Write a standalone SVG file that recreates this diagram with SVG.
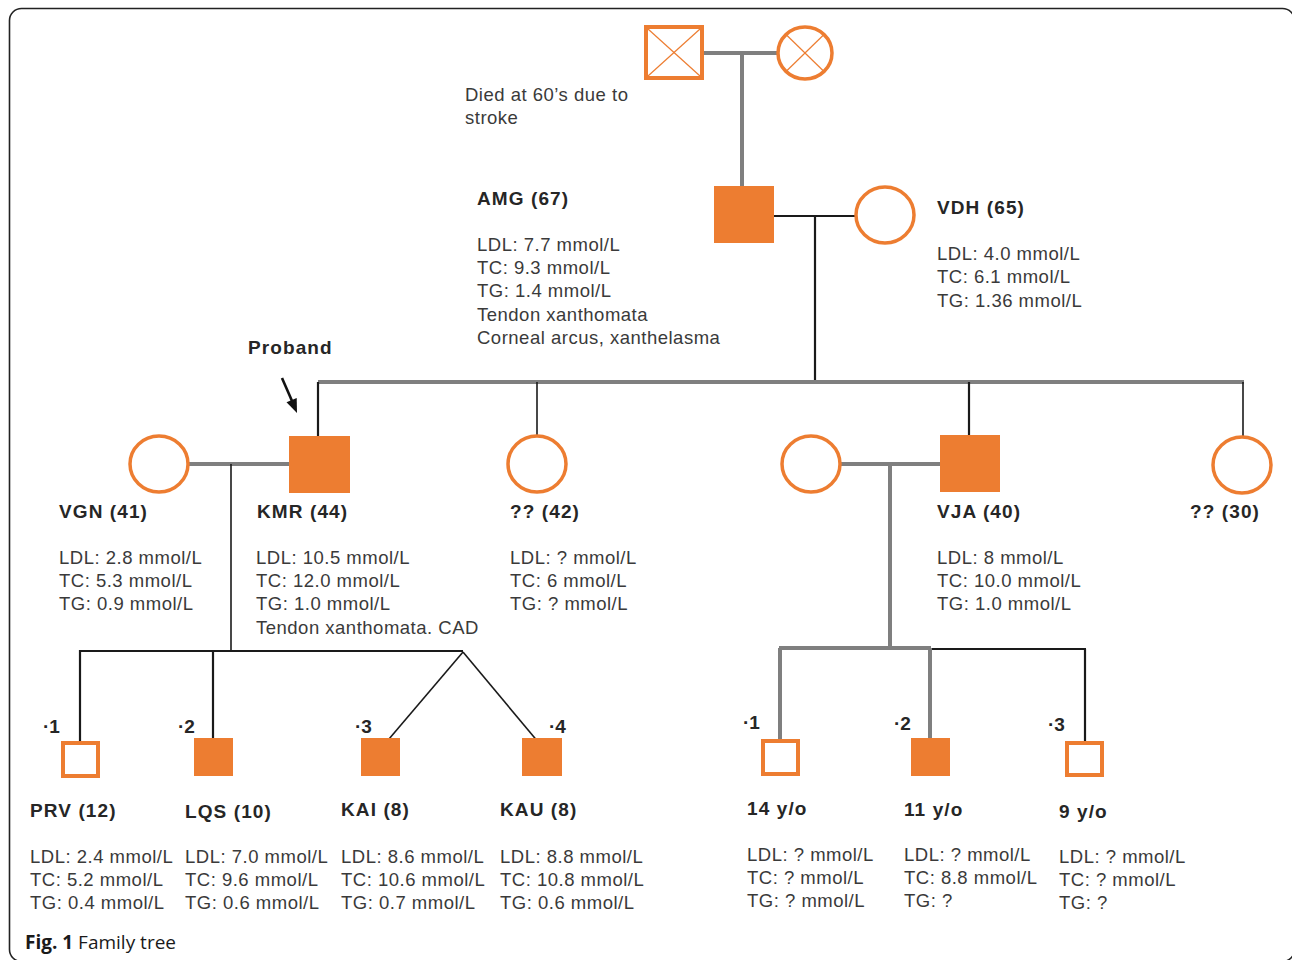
<svg xmlns="http://www.w3.org/2000/svg" width="1292" height="960" viewBox="0 0 1292 960">
<defs>
<style>
.frame{fill:#fff;stroke:#222;stroke-width:1.6}
.aff{fill:#ED7D31}
.una{fill:#fff;stroke:#ED7D31;stroke-width:4}
.cir{fill:#fff;stroke:#ED7D31;stroke-width:3.5}
.xm{stroke:#ED7D31;stroke-width:1.2;fill:none}
.g{stroke:#7F7F7F;stroke-width:4;fill:none}
.k{stroke:#1a1a1a;stroke-width:2.2;fill:none}
.kt{stroke:#1a1a1a;stroke-width:1.6;fill:none}
.nm{font-family:"Liberation Sans",Arial,sans-serif;font-size:19px;font-weight:bold;letter-spacing:1.1px;fill:#262626}
.dt{font-family:"Liberation Sans",Arial,sans-serif;font-size:18.5px;letter-spacing:0.5px;fill:#3a3a3a}
.num{font-family:"Liberation Sans",Arial,sans-serif;font-size:19px;font-weight:bold;fill:#262626}
.cap{font-family:"Open Sans","Liberation Sans",sans-serif;font-size:19px;fill:#1a1a1a}
</style>
</defs>
<rect x="9.5" y="8.5" width="1285" height="953" rx="12" class="frame"/>

<g id="connectors">
<line class="g" x1="702" y1="53" x2="778" y2="53"/>
<line class="g" x1="742" y1="53" x2="742" y2="187"/>
<line class="k" x1="774" y1="216" x2="857" y2="216"/>
<line class="k" x1="815" y1="216" x2="815" y2="383"/>
<line class="g" x1="318" y1="382" x2="1244" y2="382"/>
<line class="k" x1="318" y1="382" x2="318" y2="437"/>
<line class="kt" x1="537" y1="382" x2="537" y2="436"/>
<line class="k" x1="969" y1="382" x2="969" y2="436"/>
<line class="kt" x1="1243" y1="382" x2="1243" y2="437"/>
<line class="g" x1="188" y1="464" x2="290" y2="464"/>
<line class="kt" x1="231" y1="464" x2="231" y2="651"/>
<line class="g" x1="840" y1="464" x2="941" y2="464"/>
<line class="g" x1="890" y1="464" x2="890" y2="648"/>
<line class="k" x1="80" y1="651" x2="463" y2="651"/>
<line class="k" x1="80" y1="650" x2="80" y2="743"/>
<line class="k" x1="213" y1="650" x2="213" y2="739"/>
<line class="kt" x1="463" y1="652" x2="389" y2="739"/>
<line class="kt" x1="463" y1="652" x2="539" y2="743"/>
<line class="g" x1="779" y1="648" x2="931" y2="648"/>
<line class="k" x1="930" y1="649" x2="1086" y2="649"/>
<line class="g" x1="780" y1="648" x2="780" y2="742"/>
<line class="g" x1="930" y1="648" x2="930" y2="739"/>
<line class="k" x1="1085" y1="649" x2="1085" y2="741"/>
<line x1="282" y1="378" x2="292" y2="401" stroke="#111" stroke-width="2.6"/>
<polygon points="297,413 296.7,398 286.5,402.2" fill="#111"/>
</g>

<g id="gf">
<rect class="una" x="646" y="27" width="56" height="51"/>
<line class="xm" x1="648" y1="29" x2="700" y2="76"/>
<line class="xm" x1="700" y1="29" x2="648" y2="76"/>
</g>
<g id="gm">
<ellipse class="cir" cx="805" cy="53" rx="27" ry="26"/>
<line class="xm" x1="786" y1="34.5" x2="824" y2="71.5"/>
<line class="xm" x1="824" y1="34.5" x2="786" y2="71.5"/>
<text class="dt" x="465" y="101">Died at 60’s due to</text>
<text class="dt" x="465" y="124">stroke</text>
</g>

<g id="amg">
<rect class="aff" x="714" y="186" width="60" height="57"/>
<text class="nm" x="477" y="205">AMG (67)</text>
<text class="dt" x="477" y="251">LDL: 7.7 mmol/L</text>
<text class="dt" x="477" y="274">TC: 9.3 mmol/L</text>
<text class="dt" x="477" y="297">TG: 1.4 mmol/L</text>
<text class="dt" x="477" y="321">Tendon xanthomata</text>
<text class="dt" x="477" y="344">Corneal arcus, xanthelasma</text>
</g>

<g id="vdh">
<ellipse class="cir" cx="885" cy="215" rx="29" ry="28"/>
<text class="nm" x="937" y="214">VDH (65)</text>
<text class="dt" x="937" y="260">LDL: 4.0 mmol/L</text>
<text class="dt" x="937" y="283">TC: 6.1 mmol/L</text>
<text class="dt" x="937" y="307">TG: 1.36 mmol/L</text>
</g>

<g id="proband">
<text class="nm" x="248" y="354" letter-spacing="0.6">Proband</text>
</g>

<g id="vgn">
<ellipse class="cir" cx="159" cy="464" rx="29" ry="28"/>
<text class="nm" x="59" y="518">VGN (41)</text>
<text class="dt" x="59" y="564">LDL: 2.8 mmol/L</text>
<text class="dt" x="59" y="587">TC: 5.3 mmol/L</text>
<text class="dt" x="59" y="610">TG: 0.9 mmol/L</text>
</g>

<g id="kmr">
<rect class="aff" x="289" y="436" width="61" height="57"/>
<text class="nm" x="257" y="518">KMR (44)</text>
<text class="dt" x="256" y="564">LDL: 10.5 mmol/L</text>
<text class="dt" x="256" y="587">TC: 12.0 mmol/L</text>
<text class="dt" x="256" y="610">TG: 1.0 mmol/L</text>
<text class="dt" x="256" y="634">Tendon xanthomata. CAD</text>
</g>

<g id="s42">
<ellipse class="cir" cx="537" cy="464" rx="29" ry="28"/>
<text class="nm" x="510" y="518">?? (42)</text>
<text class="dt" x="510" y="564">LDL: ? mmol/L</text>
<text class="dt" x="510" y="587">TC: 6 mmol/L</text>
<text class="dt" x="510" y="610">TG: ? mmol/L</text>
</g>

<g id="vjaw">
<ellipse class="cir" cx="811" cy="464" rx="29" ry="28"/>
</g>

<g id="vja">
<rect class="aff" x="940" y="435" width="60" height="57"/>
<text class="nm" x="937" y="518">VJA (40)</text>
<text class="dt" x="937" y="564">LDL: 8 mmol/L</text>
<text class="dt" x="937" y="587">TC: 10.0 mmol/L</text>
<text class="dt" x="937" y="610">TG: 1.0 mmol/L</text>
</g>

<g id="s30">
<ellipse class="cir" cx="1242" cy="465" rx="29" ry="28"/>
<text class="nm" x="1190" y="518">?? (30)</text>
</g>

<g id="prv">
<rect class="una" x="63" y="743" width="35" height="33"/>
<text class="num" x="43" y="733">·1</text>
<text class="nm" x="30" y="817">PRV (12)</text>
<text class="dt" x="30" y="863">LDL: 2.4 mmol/L</text>
<text class="dt" x="30" y="886">TC: 5.2 mmol/L</text>
<text class="dt" x="30" y="909">TG: 0.4 mmol/L</text>
</g>

<g id="lqs">
<rect class="aff" x="194" y="738" width="39" height="38"/>
<text class="num" x="178" y="733">·2</text>
<text class="nm" x="185" y="818">LQS (10)</text>
<text class="dt" x="185" y="863">LDL: 7.0 mmol/L</text>
<text class="dt" x="185" y="886">TC: 9.6 mmol/L</text>
<text class="dt" x="185" y="909">TG: 0.6 mmol/L</text>
</g>

<g id="kai">
<rect class="aff" x="361" y="738" width="39" height="38"/>
<text class="num" x="355" y="733">·3</text>
<text class="nm" x="341" y="816">KAI (8)</text>
<text class="dt" x="341" y="863">LDL: 8.6 mmol/L</text>
<text class="dt" x="341" y="886">TC: 10.6 mmol/L</text>
<text class="dt" x="341" y="909">TG: 0.7 mmol/L</text>
</g>

<g id="kau">
<rect class="aff" x="522" y="738" width="40" height="38"/>
<text class="num" x="549" y="733">·4</text>
<text class="nm" x="500" y="816">KAU (8)</text>
<text class="dt" x="500" y="863">LDL: 8.8 mmol/L</text>
<text class="dt" x="500" y="886">TC: 10.8 mmol/L</text>
<text class="dt" x="500" y="909">TG: 0.6 mmol/L</text>
</g>

<g id="c14">
<rect class="una" x="763" y="741" width="35" height="33"/>
<text class="num" x="743" y="729">·1</text>
<text class="nm" x="747" y="815">14 y/o</text>
<text class="dt" x="747" y="861">LDL: ? mmol/L</text>
<text class="dt" x="747" y="884">TC: ? mmol/L</text>
<text class="dt" x="747" y="907">TG: ? mmol/L</text>
</g>

<g id="c11">
<rect class="aff" x="911" y="738" width="39" height="38"/>
<text class="num" x="894" y="730">·2</text>
<text class="nm" x="904" y="816">11 y/o</text>
<text class="dt" x="904" y="861">LDL: ? mmol/L</text>
<text class="dt" x="904" y="884">TC: 8.8 mmol/L</text>
<text class="dt" x="904" y="907">TG: ?</text>
</g>

<g id="c9">
<rect class="una" x="1067" y="743" width="35" height="32"/>
<text class="num" x="1048" y="731">·3</text>
<text class="nm" x="1059" y="818">9 y/o</text>
<text class="dt" x="1059" y="863">LDL: ? mmol/L</text>
<text class="dt" x="1059" y="886">TC: ? mmol/L</text>
<text class="dt" x="1059" y="909">TG: ?</text>
</g>

<text class="cap" x="25" y="949"><tspan font-weight="bold">Fig. 1</tspan> Family tree</text>
</svg>
